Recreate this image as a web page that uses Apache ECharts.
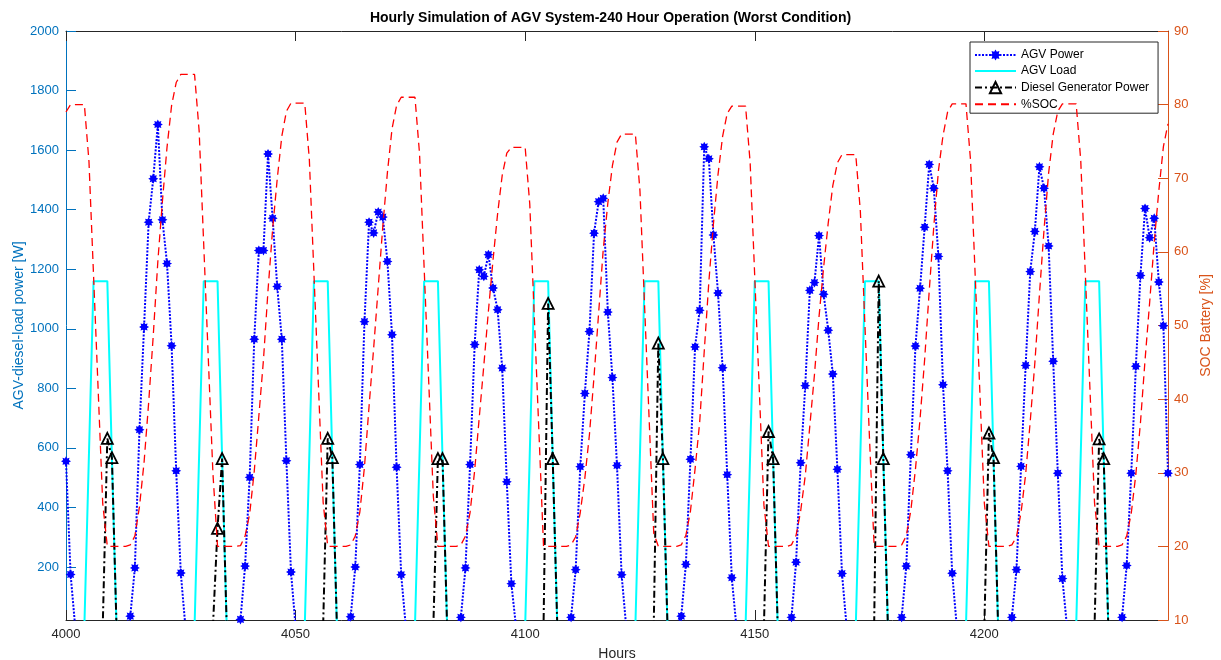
<!DOCTYPE html>
<html><head><meta charset="utf-8">
<script src="https://cdn.jsdelivr.net/npm/echarts@6/dist/echarts.min.js"></script>
<style>html,body{margin:0;padding:0;background:#fff}#c{width:1221px;height:660px}</style>
</head><body><div id="c"></div>
<script>
// x values: hours 4000..4240
const hours = [];
for (let h = 4000; h <= 4240; h++) hours.push(h);

// AGV Power [W] (one row per 24 h, starting at 4000)
const agvPower = [
 555,175,0,0,0,0,0,0,0,0,0,0,0,0,35,197,661,1006,1358,1504,1686,1366,1219,943,
 523,180,0,0,0,0,0,0,0,0,0,0,0,0,24,203,501,965,1263,1263,1587,1371,1142,965,
 557,183,0,0,0,0,0,0,0,0,0,0,0,0,33,200,544,1024,1358,1322,1392,1375,1226,980,
 535,174,0,0,0,0,0,0,0,0,0,0,0,0,31,197,544,947,1198,1176,1249,1137,1064,868,
 486,144,0,0,0,0,0,0,0,0,0,0,0,0,31,191,537,783,991,1321,1427,1438,1056,836,
 541,174,0,0,0,0,0,0,0,0,0,0,0,0,35,209,562,939,1062,1611,1571,1315,1120,869,
 510,164,0,0,0,0,0,0,0,0,0,0,0,0,31,216,550,809,1129,1155,1313,1116,995,848,
 528,178,0,0,0,0,0,0,0,0,0,0,0,0,31,203,577,942,1136,1341,1552,1472,1243,812,
 523,179,0,0,0,0,0,0,0,0,0,0,0,0,31,191,538,877,1192,1327,1544,1472,1278,891,
 515,161,0,0,0,0,0,0,0,0,0,0,0,0,31,205,515,874,1179,1404,1306,1371,1157,1010,
 515
];

// AGV Load [W]
const agvLoad = [
 0,0,0,0,0,580,1160,1160,1160,1160,565,0,0,0,0,0,0,0,0,0,0,0,0,0,
 0,0,0,0,0,580,1160,1160,1160,1160,565,0,0,0,0,0,0,0,0,0,0,0,0,0,
 0,0,0,0,0,580,1160,1160,1160,1160,565,0,0,0,0,0,0,0,0,0,0,0,0,0,
 0,0,0,0,0,580,1160,1160,1160,1160,565,0,0,0,0,0,0,0,0,0,0,0,0,0,
 0,0,0,0,0,580,1160,1160,1160,1160,565,0,0,0,0,0,0,0,0,0,0,0,0,0,
 0,0,0,0,0,580,1160,1160,1160,1160,565,0,0,0,0,0,0,0,0,0,0,0,0,0,
 0,0,0,0,0,580,1160,1160,1160,1160,565,0,0,0,0,0,0,0,0,0,0,0,0,0,
 0,0,0,0,0,580,1160,1160,1160,1160,565,0,0,0,0,0,0,0,0,0,0,0,0,0,
 0,0,0,0,0,580,1160,1160,1160,1160,565,0,0,0,0,0,0,0,0,0,0,0,0,0,
 0,0,0,0,0,580,1160,1160,1160,1160,565,0,0,0,0,0,0,0,0,0,0,0,0,0,
 0
];

// Diesel Generator Power [W]
const dieselPower = [
 0,0,0,0,0,0,0,0,0,632,567,0,0,0,0,0,0,0,0,0,0,0,0,0,
 0,0,0,0,0,0,0,0,0,330,564,0,0,0,0,0,0,0,0,0,0,0,0,0,
 0,0,0,0,0,0,0,0,0,632,567,0,0,0,0,0,0,0,0,0,0,0,0,0,
 0,0,0,0,0,0,0,0,0,564,564,0,0,0,0,0,0,0,0,0,0,0,0,0,
 0,0,0,0,0,0,0,0,0,1085,564,0,0,0,0,0,0,0,0,0,0,0,0,0,
 0,0,0,0,0,0,0,0,0,952,564,0,0,0,0,0,0,0,0,0,0,0,0,0,
 0,0,0,0,0,0,0,0,0,655,564,0,0,0,0,0,0,0,0,0,0,0,0,0,
 0,0,0,0,0,0,0,0,0,1160,564,0,0,0,0,0,0,0,0,0,0,0,0,0,
 0,0,0,0,0,0,0,0,0,650,567,0,0,0,0,0,0,0,0,0,0,0,0,0,
 0,0,0,0,0,0,0,0,0,630,564,0,0,0,0,0,0,0,0,0,0,0,0,0,
 0
];

// Battery state of charge [%]
const soc = [
 79,80,80,80,80,72.3,56.8,41.3,25.8,20,20,20,20,20,20.2,21.4,25.4,31.4,39.5,48.6,58.7,66.9,74.2,79.9,
 83.0,84.1,84.1,84.1,84.1,76.4,60.9,45.4,29.9,20,20,20,20,20,20.1,21.4,24.4,30.2,37.7,45.3,54.8,63.1,69.9,75.7,
 79.1,80.2,80.2,80.2,80.2,72.5,57.0,41.5,26.0,20,20,20,20,20,20.2,21.4,24.7,30.8,39.0,46.9,55.2,63.5,70.8,76.7,
 79.9,81.0,81.0,81.0,81.0,73.3,57.8,42.3,26.8,20,20,20,20,20,20.2,21.4,24.6,30.3,37.5,44.6,52.0,58.9,65.2,70.4,
 73.4,74.2,74.2,74.2,74.2,66.5,51.0,35.5,20,20,20,20,20,20,20.2,21.3,24.6,29.3,35.2,43.1,51.7,60.3,66.6,71.7,
 74.9,76.0,76.0,76.0,76.0,68.3,52.8,37.3,21.8,20,20,20,20,20,20.2,21.5,24.8,30.5,36.8,46.5,55.9,63.8,70.5,75.7,
 78.8,79.8,79.8,79.8,79.8,72.1,56.6,41.1,25.6,20,20,20,20,20,20.2,21.5,24.8,29.6,36.4,43.3,51.2,57.9,63.9,69.0,
 72.1,73.2,73.2,73.2,73.2,65.5,50.0,34.5,20,20,20,20,20,20,20.2,21.4,24.9,30.5,37.3,45.4,54.7,63.5,71.0,75.8,
 79.0,80.1,80.1,80.1,80.1,72.4,56.9,41.4,25.9,20,20,20,20,20,20.2,21.3,24.6,29.8,37.0,44.9,54.2,63.0,70.7,76.0,
 79.1,80.1,80.1,80.1,80.1,72.4,56.9,41.4,25.9,20,20,20,20,20,20.2,21.4,24.5,29.8,36.8,45.3,53.1,61.3,68.3,74.3,
 77.4
];

// tick labels
const xTicks = [4000, 4050, 4100, 4150, 4200];
const leftTicks = [200, 400, 600, 800, 1000, 1200, 1400, 1600, 1800, 2000];

const FONT = '"Liberation Sans", Arial, Helvetica, sans-serif';
const pairs = arr => hours.map((h, i) => [h, arr[i]]);
const plain = v => String(v);

// asterisk-like star marker
const starPath = (function () {
  let d = '';
  for (let i = 0; i < 16; i++) {
    const a = Math.PI * i / 8 - Math.PI / 2;
    const r = i % 2 === 0 ? 1 : 0.62;
    d += (i === 0 ? 'M' : 'L') + (Math.cos(a) * r).toFixed(3) + ' ' + (Math.sin(a) * r).toFixed(3) + ' ';
  }
  return 'path://' + d + 'Z';
})();

const chart = echarts.init(document.getElementById('c'), null, {renderer: 'canvas'});
const darkAxis = '#262626';
const blueAxis = '#0072BD';
const orangeAxis = '#D95319';

chart.setOption({
  animation: false,
  backgroundColor: '#fff',
  textStyle: {fontFamily: FONT},
  title: {
    text: 'Hourly Simulation of AGV System-240 Hour Operation (Worst Condition)',
    left: 'center', top: 6, padding: [5, 5, 5, 18],
    textStyle: {fontSize: 14, fontWeight: 'bold', color: '#000', fontFamily: FONT}
  },
  grid: {left: 66, top: 31, width: 1102, height: 589, containLabel: false, outerBoundsMode: 'none'},
  legend: {
    orient: 'vertical', left: 970, top: 42,
    padding: [7, 9, 3, 4], itemGap: 4, itemWidth: 41, itemHeight: 14,
    backgroundColor: '#fff', borderColor: darkAxis, borderWidth: 1,
    textStyle: {fontSize: 12, color: '#000', fontFamily: FONT},
    data: [
      {name: 'AGV Power'},
      {name: 'AGV Load', itemStyle: {color: 'rgba(0,0,0,0)', borderWidth: 0}},
      {name: 'Diesel Generator Power'},
      {name: '%SOC', itemStyle: {color: 'rgba(0,0,0,0)', borderWidth: 0}}
    ]
  },
  xAxis: [
    {
      type: 'value', min: 4000, max: 4240, position: 'bottom',
      axisLine: {show: true, lineStyle: {color: darkAxis, width: 1}},
      axisTick: {show: true, inside: true, length: 10, customValues: xTicks, lineStyle: {color: darkAxis}},
      axisLabel: {customValues: xTicks, formatter: plain, color: darkAxis, fontSize: 13, margin: 8, fontFamily: FONT},
      splitLine: {show: false},
      name: 'Hours', nameLocation: 'middle', nameGap: 27,
      nameTextStyle: {fontSize: 14, color: darkAxis, fontFamily: FONT}
    },
    {
      type: 'value', min: 4000, max: 4240, position: 'top',
      axisLine: {show: true, lineStyle: {color: darkAxis, width: 1}},
      axisTick: {show: true, inside: true, length: 10, customValues: xTicks, lineStyle: {color: darkAxis}},
      axisLabel: {show: false},
      splitLine: {show: false}
    }
  ],
  yAxis: [
    {
      type: 'value', min: 22, max: 2000, position: 'left',
      axisLine: {show: true, lineStyle: {color: blueAxis, width: 1}},
      axisTick: {show: true, inside: true, length: 10, customValues: leftTicks, lineStyle: {color: blueAxis}},
      axisLabel: {customValues: leftTicks, formatter: plain, color: blueAxis, fontSize: 13, margin: 7, fontFamily: FONT},
      splitLine: {show: false},
      name: 'AGV-diesel-load power [W]', nameLocation: 'middle', nameGap: 40, nameMoveOverlap: false,
      nameTextStyle: {fontSize: 14, color: blueAxis, fontFamily: FONT}
    },
    {
      type: 'value', min: 10, max: 90, interval: 10, position: 'right',
      axisLine: {show: true, lineStyle: {color: orangeAxis, width: 1}},
      axisTick: {show: true, inside: true, length: 10, lineStyle: {color: orangeAxis}},
      axisLabel: {color: orangeAxis, formatter: plain, fontSize: 13, margin: 6, fontFamily: FONT},
      splitLine: {show: false},
      name: 'SOC Battery [%]', nameLocation: 'middle', nameGap: 28, nameRotate: 90,
      nameTextStyle: {fontSize: 14, color: orangeAxis, fontFamily: FONT}
    }
  ],
  series: [
    {
      name: 'AGV Power', type: 'line', xAxisIndex: 0, yAxisIndex: 0,
      data: pairs(agvPower), clip: true, z: 2,
      symbol: starPath, symbolSize: 10, showSymbol: true,
      itemStyle: {color: '#0000FF'},
      lineStyle: {color: '#0000FF', width: 2, type: [2, 1.5]}
    },
    {
      name: 'AGV Load', type: 'line', xAxisIndex: 0, yAxisIndex: 0,
      data: pairs(agvLoad), clip: true, z: 3,
      symbol: 'none',
      itemStyle: {color: '#00FFFF'},
      lineStyle: {color: '#00FFFF', width: 2, type: 'solid'}
    },
    {
      name: 'Diesel Generator Power', type: 'line', xAxisIndex: 0, yAxisIndex: 0,
      data: pairs(dieselPower), clip: true, z: 4,
      symbol: 'triangle', symbolSize: 11, showSymbol: true,
      itemStyle: {color: 'rgba(0,0,0,0)', borderColor: '#000', borderWidth: 1.8},
      lineStyle: {color: '#000', width: 2, type: [7, 3, 2, 3]}
    },
    {
      name: '%SOC', type: 'line', xAxisIndex: 0, yAxisIndex: 1,
      data: pairs(soc), clip: true, z: 5,
      symbol: 'none',
      itemStyle: {color: '#FF0000'},
      lineStyle: {color: '#FF0000', width: 1.3, type: [8, 5]}
    }
  ]
});
</script>
</body></html>
